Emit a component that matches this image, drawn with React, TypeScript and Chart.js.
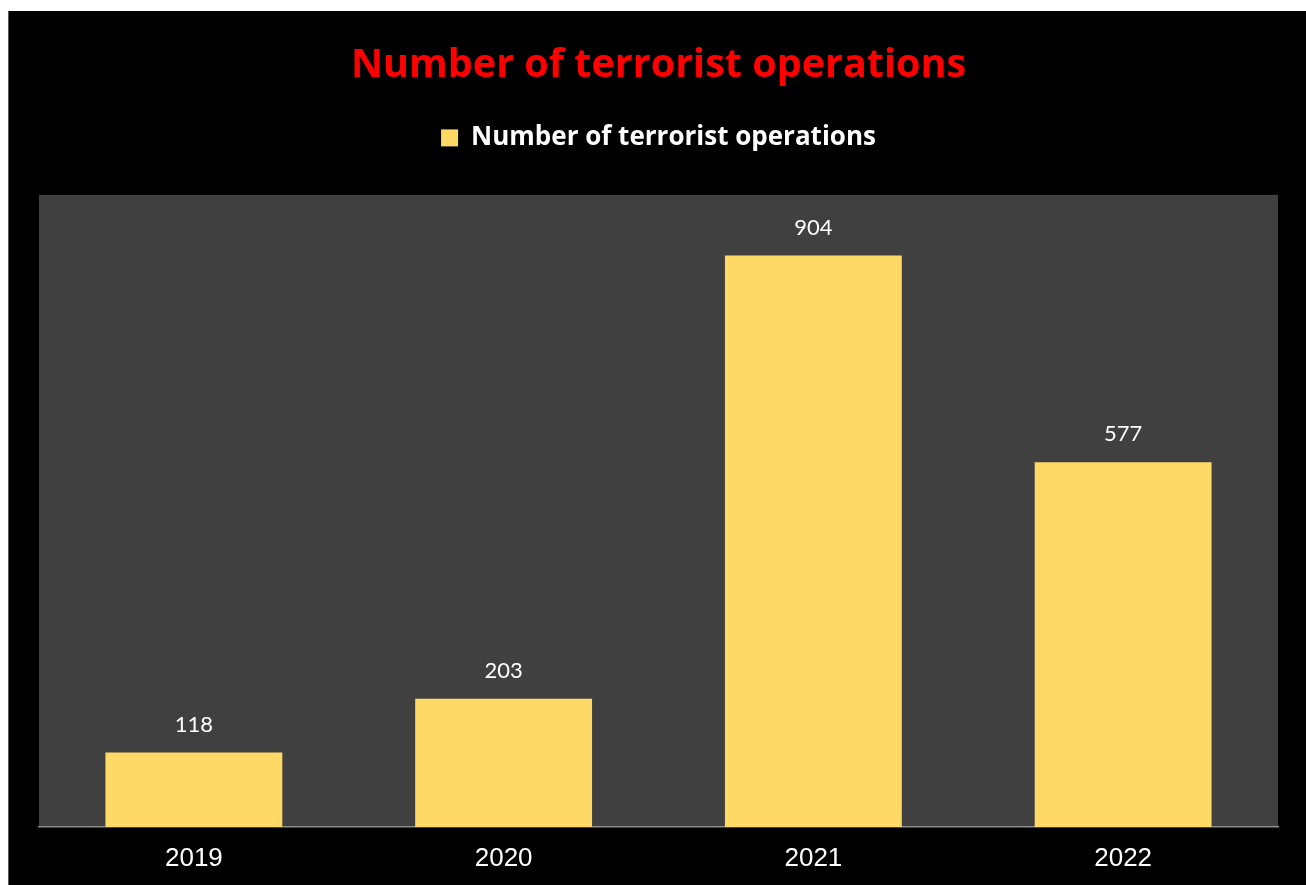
import React, { useEffect, useRef } from "react";
import { Chart, registerables } from "chart.js";

Chart.register(...registerables);

const categories = ["2019", "2020", "2021", "2022"];
const values = [118, 203, 904, 577];
const seriesName = "Number of terrorist operations";
const chartTitle = "Number of terrorist operations";
const yMin = 0;
const yMax = 1000;

const BAR_COLOR = "#FFD966";
const PLOT_BG = "#404040";

const plotBackground = {
  id: "plotBackground",
  beforeDraw(chart: any) {
    const { ctx, chartArea } = chart;
    if (!chartArea) return;
    ctx.save();
    ctx.fillStyle = PLOT_BG;
    ctx.fillRect(chartArea.left, chartArea.top, chartArea.right - chartArea.left, chartArea.bottom - chartArea.top);
    ctx.restore();
  },
};

const valueLabels = {
  id: "valueLabels",
  afterDatasetsDraw(chart: any) {
    const { ctx } = chart;
    const meta = chart.getDatasetMeta(0);
    ctx.save();
    ctx.fillStyle = "#FFFFFF";
    ctx.font = "22px Lato, 'Open Sans', sans-serif";
    ctx.textAlign = "center";
    ctx.textBaseline = "middle";
    meta.data.forEach((bar: any, i: number) => {
      ctx.fillText(String(values[i]), bar.x, bar.y - 28);
    });
    ctx.restore();
  },
};

export default function App() {
  const canvasRef = useRef<HTMLCanvasElement | null>(null);

  useEffect(() => {
    if (!canvasRef.current) return;
    const chart = new Chart(canvasRef.current, {
      type: "bar",
      data: {
        labels: categories,
        datasets: [
          {
            label: seriesName,
            data: values,
            backgroundColor: BAR_COLOR,
            borderWidth: 0,
            barPercentage: 0.571,
            categoryPercentage: 1,
          },
        ],
      },
      options: {
        animation: false,
        responsive: true,
        maintainAspectRatio: false,
        layout: { padding: { left: 30, right: 28, top: 0, bottom: 0 } },
        plugins: {
          title: {
            display: true,
            text: chartTitle,
            color: "#FF0000",
            font: { family: "'Open Sans', Lato, sans-serif", size: 39.5, weight: "bold" },
            padding: { top: 31, bottom: 25.5 },
          },
          legend: {
            display: true,
            position: "top",
            labels: {
              color: "#FFFFFF",
              font: { family: "'Open Sans', Lato, sans-serif", size: 26, weight: "bold" },
              boxWidth: 17,
              boxHeight: 17,
              padding: 10,
            },
          },
          tooltip: { enabled: false },
        },
        scales: {
          x: {
            position: "bottom",
            grid: { display: false, drawTicks: false },
            border: { display: true, color: "#8C8C8C", width: 1.5 },
            ticks: {
              color: "#FFFFFF",
              font: { family: "'Liberation Sans', Arial, sans-serif", size: 26 },
              padding: 16,
            },
            afterFit(scale: any) {
              scale.height = 58;
            },
          },
          xTop: {
            type: "category",
            position: "top",
            display: true,
            grid: { display: false, drawTicks: false },
            border: { display: false },
            ticks: { display: false },
            afterFit(scale: any) {
              scale.height = 34;
            },
          },
          y: {
            display: false,
            min: yMin,
            max: yMax,
          },
        },
      },
      plugins: [plotBackground, valueLabels],
    } as any);
    return () => chart.destroy();
  }, []);

  return (
    <div
      style={{
        position: "absolute",
        left: 8,
        top: 11,
        width: 1298,
        height: 874,
        background: "#000000",
        boxSizing: "border-box",
        borderLeft: "1px solid #5A5A5A",
      }}
    >
      <canvas ref={canvasRef} />
    </div>
  );
}
